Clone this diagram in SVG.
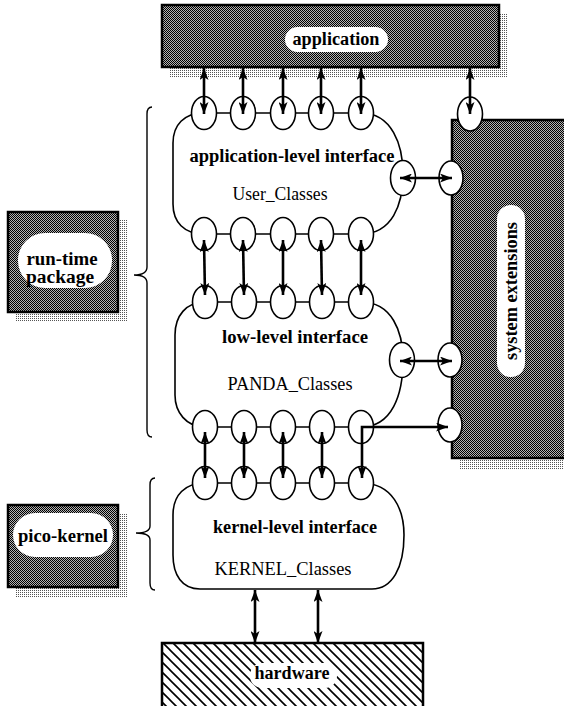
<svg xmlns="http://www.w3.org/2000/svg" width="564" height="706" viewBox="0 0 564 706">
<style>
.box{stroke:#000;stroke-width:2.5;fill:url(#dither)}
.shadow{fill:url(#dots);stroke:none}
.pill{fill:#fff;stroke:none}
.blob{fill:#fff;stroke:#000;stroke-width:1.6}
.port{fill:#fff;stroke:#000;stroke-width:1.6}
.arrow{fill:none;stroke:#000;stroke-width:2.6;marker-start:url(#ah);marker-end:url(#ah)}
.brace{fill:none;stroke:#000;stroke-width:1.4}
.b{font-family:"Liberation Serif",serif;font-weight:bold;font-size:18px;text-anchor:middle;fill:#000}
.r{font-family:"Liberation Serif",serif;font-size:18px;text-anchor:middle;fill:#000}
</style>
<defs>
<pattern id="dither" width="2" height="2" patternUnits="userSpaceOnUse">
<rect width="2" height="2" fill="#b4b4b4"/><rect width="1" height="1" fill="#000"/><rect x="1" y="1" width="1" height="1" fill="#000"/>
</pattern>
<pattern id="dots" width="2" height="2" patternUnits="userSpaceOnUse">
<rect width="2" height="2" fill="#fff"/><rect width="1" height="1" fill="#555"/>
</pattern>
<pattern id="hatch" width="10" height="10" patternUnits="userSpaceOnUse">
<rect width="10" height="10" fill="#fff"/>
<path d="M-1,-1 L11,11 M-1,9 L1,11 M9,-1 L11,1" stroke="#000" stroke-width="1.6"/>
</pattern>
<marker id="ah" markerWidth="12" markerHeight="9" refX="12" refY="4.5" orient="auto-start-reverse" markerUnits="userSpaceOnUse">
<path d="M0,0 L12,4.5 L0,9 L3,4.5 z" fill="#000"/>
</marker>
</defs>
<rect width="564" height="706" fill="#fff"/>

<g id="application">
<rect class="shadow" x="170" y="13" width="337" height="64"/>
<rect class="box" x="162" y="5" width="337" height="62"/>
<rect class="pill" x="285" y="27" width="103" height="25" rx="12.5"/>
<text class="b" x="336" y="45" textLength="87" lengthAdjust="spacingAndGlyphs">application</text>
</g>

<g id="system-extensions">
<rect class="shadow" x="460" y="128" width="110" height="342"/>
<rect class="box" x="452" y="120" width="120" height="338"/>
<rect class="pill" x="497" y="205" width="28" height="172" rx="14"/>
<text class="b" transform="translate(517,291) rotate(-90)" x="0" y="0" textLength="138" lengthAdjust="spacingAndGlyphs">system extensions</text>
<ellipse class="port" cx="470" cy="114" rx="12.5" ry="17"/>
<ellipse class="port" cx="451" cy="178" rx="12" ry="17"/>
<ellipse class="port" cx="450" cy="360" rx="12" ry="17"/>
<ellipse class="port" cx="450" cy="425" rx="12" ry="17"/>
</g>

<g id="run-time-package">
<rect class="shadow" x="16" y="220" width="112" height="102"/>
<rect class="box" x="8" y="212" width="110" height="100"/>
<rect class="pill" x="18" y="233" width="94" height="55" rx="27"/>
<text class="b" x="62" y="265" font-size="19" textLength="71" lengthAdjust="spacingAndGlyphs">run-time</text>
<text class="b" x="60" y="283" font-size="19" textLength="68" lengthAdjust="spacingAndGlyphs">package</text>
<path class="brace" d="M152,107 Q147,107 147,114 L147,267 Q147,275 134,275 Q147,275 147,283 L147,430 Q147,437 152,437"/>
</g>

<g id="pico-kernel">
<rect class="shadow" x="16" y="513" width="112" height="84"/>
<rect class="box" x="8" y="505" width="110" height="82"/>
<rect class="pill" x="13" y="513" width="100" height="44" rx="22"/>
<text class="b" x="63" y="542" font-size="19" textLength="90" lengthAdjust="spacingAndGlyphs">pico-kernel</text>
<path class="brace" d="M155,478 Q150,478 150,485 L150,526 Q150,533 136,533 Q150,533 150,540 L150,583 Q150,590 155,590"/>
</g>

<g id="hardware">
<rect x="162" y="643" width="261" height="70" fill="url(#hatch)" stroke="#000" stroke-width="2.5"/>
<rect class="pill" x="250" y="663" width="87" height="25" rx="12"/>
<text class="b" x="292" y="679" textLength="75" lengthAdjust="spacingAndGlyphs">hardware</text>
</g>

<g id="application-level-interface">
<path class="blob" d="M204,113 L361,113 C392,113 403,145 403,174 C403,205 392,234 361,234 L204,234 C184,234 173,222 173,204 L173,143 C173,125 184,113 204,113 Z"/>
<ellipse class="port" cx="204" cy="113" rx="12.5" ry="16.5"/>
<ellipse class="port" cx="243" cy="113" rx="12.5" ry="16.5"/>
<ellipse class="port" cx="283" cy="113" rx="12.5" ry="16.5"/>
<ellipse class="port" cx="321" cy="113" rx="12.5" ry="16.5"/>
<ellipse class="port" cx="361" cy="113" rx="12.5" ry="16.5"/>
<ellipse class="port" cx="204" cy="234" rx="12.5" ry="16.5"/>
<ellipse class="port" cx="243" cy="234" rx="12.5" ry="16.5"/>
<ellipse class="port" cx="283" cy="234" rx="12.5" ry="16.5"/>
<ellipse class="port" cx="321" cy="234" rx="12.5" ry="16.5"/>
<ellipse class="port" cx="361" cy="234" rx="12.5" ry="16.5"/>
<ellipse class="port" cx="403" cy="178" rx="12.5" ry="17.5"/>
<text class="b" x="292" y="162" textLength="205" lengthAdjust="spacingAndGlyphs">application-level interface</text>
<text class="r" x="280" y="200" textLength="95" lengthAdjust="spacingAndGlyphs">User_Classes</text>
</g>

<g id="low-level-interface">
<path class="blob" d="M205,302 L361,302 C392,302 403,332 403,360 C403,395 392,427 361,427 L205,427 C186,427 175,412 175,395 L175,335 C175,316 186,302 205,302 Z"/>
<ellipse class="port" cx="205" cy="302" rx="12.5" ry="16.5"/>
<ellipse class="port" cx="244" cy="302" rx="12.5" ry="16.5"/>
<ellipse class="port" cx="283" cy="302" rx="12.5" ry="16.5"/>
<ellipse class="port" cx="322" cy="302" rx="12.5" ry="16.5"/>
<ellipse class="port" cx="361" cy="302" rx="12.5" ry="16.5"/>
<ellipse class="port" cx="205" cy="427" rx="12.5" ry="16.5"/>
<ellipse class="port" cx="244" cy="427" rx="12.5" ry="16.5"/>
<ellipse class="port" cx="283" cy="427" rx="12.5" ry="16.5"/>
<ellipse class="port" cx="322" cy="427" rx="12.5" ry="16.5"/>
<ellipse class="port" cx="361" cy="427" rx="12.5" ry="16.5"/>
<ellipse class="port" cx="402" cy="360" rx="12.5" ry="17.5"/>
<text class="b" x="295" y="343" textLength="146" lengthAdjust="spacingAndGlyphs">low-level interface</text>
<text class="r" x="290" y="390" textLength="125" lengthAdjust="spacingAndGlyphs">PANDA_Classes</text>
</g>

<g id="kernel-level-interface">
<path class="blob" d="M205,483 L361,483 C393,483 404,510 404,535 C404,568 392,589 372,589 L200,589 C182,589 173,575 173,555 L173,515 C173,495 185,483 205,483 Z"/>
<ellipse class="port" cx="205" cy="483" rx="12.5" ry="16.5"/>
<ellipse class="port" cx="244" cy="483" rx="12.5" ry="16.5"/>
<ellipse class="port" cx="283" cy="483" rx="12.5" ry="16.5"/>
<ellipse class="port" cx="322" cy="483" rx="12.5" ry="16.5"/>
<ellipse class="port" cx="361" cy="483" rx="12.5" ry="16.5"/>
<text class="b" x="295" y="533" textLength="164" lengthAdjust="spacingAndGlyphs">kernel-level interface</text>
<text class="r" x="283" y="575" textLength="137" lengthAdjust="spacingAndGlyphs">KERNEL_Classes</text>
</g>

<g id="connectors">
<line class="arrow" x1="204" y1="68" x2="204" y2="114"/>
<line class="arrow" x1="243" y1="68" x2="243" y2="114"/>
<line class="arrow" x1="283" y1="68" x2="283" y2="114"/>
<line class="arrow" x1="321" y1="68" x2="321" y2="114"/>
<line class="arrow" x1="361" y1="68" x2="361" y2="114"/>
<line class="arrow" x1="470" y1="68" x2="470" y2="114"/>
<line class="arrow" x1="400" y1="178" x2="452" y2="178"/>
<line class="arrow" x1="204" y1="240" x2="205" y2="295"/>
<line class="arrow" x1="243" y1="240" x2="244" y2="295"/>
<line class="arrow" x1="283" y1="240" x2="283" y2="295"/>
<line class="arrow" x1="321" y1="240" x2="322" y2="295"/>
<line class="arrow" x1="361" y1="240" x2="361" y2="295"/>
<line class="arrow" x1="400" y1="361" x2="452" y2="361"/>
<line class="arrow" x1="205" y1="432" x2="205" y2="478"/>
<line class="arrow" x1="244" y1="432" x2="244" y2="478"/>
<line class="arrow" x1="283" y1="432" x2="283" y2="478"/>
<line class="arrow" x1="322" y1="432" x2="322" y2="478"/>
<path class="arrow" d="M448,427 L362,427 L362,478"/>
<line class="arrow" x1="255" y1="590" x2="255" y2="643"/>
<line class="arrow" x1="318" y1="590" x2="318" y2="643"/>
</g>
</svg>
